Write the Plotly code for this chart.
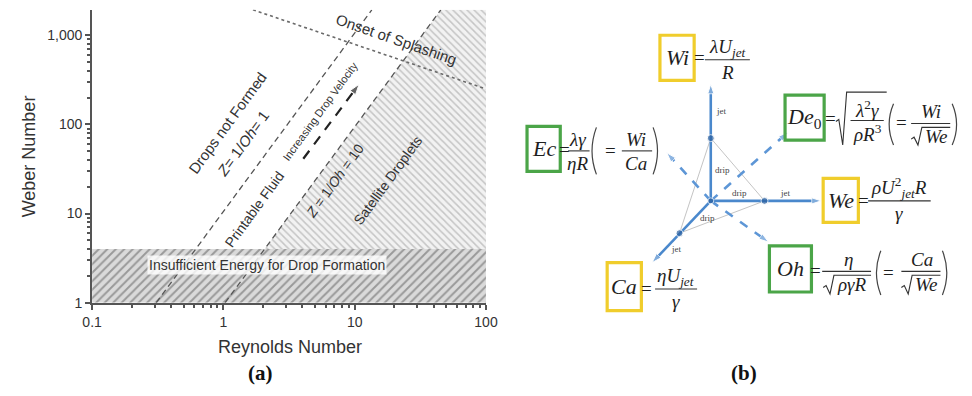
import math
import plotly.graph_objects as go

W, H = 972, 396

# ---------------- panel (a): printability map (log-log) ----------------
re_ticks = [0.1, 1, 10, 100]
re_tick_text = ["0.1", "1", "10", "100"]
we_ticks = [1, 10, 100, 1000]
we_tick_text = ["1", "10", "100", "1,000"]
we_top = 1930

# regime boundaries, (Re, We) end points
z1_re, z1_we = [0.308, 13.5], [1, 1930]          # Z = 1/Oh = 1
z10_re, z10_we = [1.03, 45.3], [1, 1930]         # Z = 1/Oh = 10
splash_re, splash_we = [1.68, 100], [1930, 250]  # onset of splashing
min_we = 4                                       # insufficient energy below this We
velocity_re, velocity_we = [4.06, 10.8], [41.2, 282]

SANS = "Liberation Sans"
SERIF = "Liberation Serif"
INK = "#333333"

fig = go.Figure()

# satellite droplet region: right of the Z=10 line, above the energy threshold
sat_re0 = z10_re[0] * math.sqrt(min_we / z10_we[0])
fig.add_trace(go.Scatter(
    x=[sat_re0, re_ticks[-1], re_ticks[-1], z10_re[1], sat_re0],
    y=[min_we, min_we, we_top, z10_we[1], min_we],
    mode="lines", fill="toself", line=dict(width=0),
    fillcolor="#f2f2f2",
    fillpattern=dict(shape="\\", size=5, solidity=0.3, fgcolor="#979797", bgcolor="#f2f2f2"),
    hoverinfo="skip", showlegend=False))

# insufficient energy band
fig.add_trace(go.Scatter(
    x=[re_ticks[0], re_ticks[-1], re_ticks[-1], re_ticks[0], re_ticks[0]],
    y=[1, 1, min_we, min_we, 1],
    mode="lines", fill="toself", line=dict(width=0),
    fillcolor="#d8d8d8",
    fillpattern=dict(shape="/", size=6, solidity=0.32, fgcolor="#585858", bgcolor="#dadada"),
    hoverinfo="skip", showlegend=False))

for xs, ys in [(z1_re, z1_we), (z10_re, z10_we)]:
    fig.add_trace(go.Scatter(x=xs, y=ys, mode="lines",
                             line=dict(color="#555555", width=1.3, dash="6px,4px"),
                             hoverinfo="skip", showlegend=False))
fig.add_trace(go.Scatter(x=splash_re, y=splash_we, mode="lines",
                         line=dict(color="#6a6a6a", width=1.6, dash="dot"),
                         hoverinfo="skip", showlegend=False))
fig.add_trace(go.Scatter(x=velocity_re, y=velocity_we, mode="lines+markers",
                         line=dict(color="#222222", width=2.2, dash="10px,8px"),
                         marker=dict(symbol=["circle", "arrow"], size=[0, 11],
                                     angleref="previous", color="#222222"),
                         hoverinfo="skip", showlegend=False))

L = math.log10
ann = []

def map_label(text, re, we, size, angle, **kw):
    d = dict(text=text, x=L(re), y=L(we), xref="x", yref="y", showarrow=False,
             xanchor="center", yanchor="middle",
             textangle=angle, font=dict(family=SANS, size=size, color=INK))
    d.update(kw)
    ann.append(d)

map_label("Drops not Formed", 1.08, 105, 15, -54)
map_label("<i>Z</i>= 1/<i>Oh</i>= 1", 1.40, 61.8, 15, -54)
map_label("Printable Fluid", 1.72, 11.4, 14, -54)
map_label("Increasing Drop Velocity", 5.5, 140, 11, -54)
map_label("<i>Z</i> = 1/<i>Oh</i> = 10", 7.14, 23.6, 14, -54)
map_label("Satellite Droplets", 18.0, 23.6, 14, -54)
map_label("Onset of Splashing", 21.0, 900, 15, 19)
map_label("Insufficient Energy for Drop Formation", 2.15, 2.62, 14, 0,
          bgcolor="rgba(255,255,255,0.8)", borderpad=1)

def paper_text(text, px, py, size, family, color, angle=0):
    ann.append(dict(text=text, x=px / W, y=1 - py / H, xref="paper", yref="paper",
                    xanchor="center", yanchor="middle", showarrow=False, textangle=angle,
                    font=dict(family=family, size=size, color=color)))

# axis titles and panel tags
paper_text("Weber Number", 19, 160, 18, SANS, INK, angle=-90)
paper_text("Reynolds Number", 286, 354, 18, SANS, INK)
paper_text("<b>(a)</b>", 256, 381, 21, SERIF, "#111111")
paper_text("<b>(b)</b>", 751, 381, 21, SERIF, "#111111")

# ---------------- panel (b): dimensionless-number diagram ----------------
BLUE = "#4a88cc"
BLUE_D = "#5d96d6"
NODE = "#2a5f9f"
YEL = "#f0cd2c"
GRN = "#4ba548"

cx, cy = 717, 205
spokes = {  # name: (tip, node)
    "Wi": ((717, 86), (717, 141)),
    "We": ((830, 205), (772, 205)),
    "Ca": ((657, 268), (685, 238)),
}
dashed_spokes = {"De0": (796, 135), "Ec": (672, 156), "Oh": (776, 247)}

nodes = [v[1] for v in spokes.values()]
fig.add_trace(go.Scatter(x=[p[0] for p in nodes + nodes[:1]], y=[p[1] for p in nodes + nodes[:1]],
                         mode="lines", line=dict(color="#c4c4c4", width=1),
                         xaxis="x2", yaxis="y2", hoverinfo="skip", showlegend=False))
for tip in dashed_spokes.values():
    fig.add_trace(go.Scatter(x=[cx, tip[0]], y=[cy, tip[1]], mode="lines+markers",
                             line=dict(color=BLUE_D, width=2.6, dash="dash"),
                             marker=dict(symbol=["circle", "arrow"], size=[0, 10],
                                         angleref="previous", color=BLUE_D),
                             xaxis="x2", yaxis="y2", hoverinfo="skip", showlegend=False))
for tip, node in spokes.values():
    fig.add_trace(go.Scatter(x=[cx, tip[0]], y=[cy, tip[1]], mode="lines+markers",
                             line=dict(color=BLUE, width=2.6),
                             marker=dict(symbol=["circle", "arrow"], size=[0, 10],
                                         angleref="previous", color=BLUE),
                             xaxis="x2", yaxis="y2", hoverinfo="skip", showlegend=False))
fig.add_trace(go.Scatter(x=[p[0] for p in nodes] + [cx], y=[p[1] for p in nodes] + [cy],
                         mode="markers", marker=dict(color=NODE, size=[7, 7, 7, 6]),
                         xaxis="x2", yaxis="y2", hoverinfo="skip", showlegend=False))

small = [("jet", 727, 113), ("drip", 729, 173), ("drip", 746, 197), ("jet", 793, 197),
         ("drip", 714, 222), ("jet", 681, 254)]
for t, x, y in small:
    ann.append(dict(text=t, x=x, y=y, xref="x2", yref="y2", showarrow=False,
                    font=dict(family=SERIF, size=9, color="#444444")))

shapes = []

def txt(text, x, y, size=19, color="#1e1e1e"):
    ann.append(dict(text=text, x=x, y=y, xref="x2", yref="y2", showarrow=False,
                    xanchor="center", yanchor="middle",
                    font=dict(family=SERIF, size=size, color=color)))

def box(x0, y0, x1, y1, color, label):
    shapes.append(dict(type="rect", x0=x0, y0=y0, x1=x1, y1=y1, xref="x2", yref="y2",
                       line=dict(color=color, width=3.2)))
    txt(label, (x0 + x1) / 2, (y0 + y1) / 2, size=22)

def bar(x0, x1, y):
    shapes.append(dict(type="line", x0=x0, x1=x1, y0=y, y1=y, xref="x2", yref="y2",
                       line=dict(color="#333333", width=1.1)))

def frac(num, den, xc, x0, x1, y, dn=12, dd=13, xd=None):
    bar(x0, x1, y)
    txt(num, xc, y - dn)
    txt(den, xc if xd is None else xd, y + dd)

def root(x0, x1, ytop, ybot):
    ym = (ytop + ybot) / 2 + 3
    shapes.append(dict(type="path", xref="x2", yref="y2",
                       path=f"M {x0},{ym} L {x0+3},{ym-2} L {x0+7},{ybot} L {x0+11},{ytop} L {x1},{ytop}",
                       line=dict(color="#333333", width=1.1)))

def paren(x, ytop, ybot, left=True):
    ym = (ytop + ybot) / 2
    if left:
        p = f"M {x+4},{ytop} Q {x-5},{ym} {x+4},{ybot}"
    else:
        p = f"M {x-4},{ytop} Q {x+5},{ym} {x-4},{ybot}"
    shapes.append(dict(type="path", path=p, xref="x2", yref="y2",
                       line=dict(color="#444444", width=1.2)))

# Wi
box(665, 36, 700, 82, YEL, "<i>Wi</i>")
txt("=", 705, 59)
frac("<i>λU</i><sub><i>jet</i></sub>", "<i>R</i>", 734, 711, 757, 61)

# Ec
box(529, 129, 563, 175, GRN, "<i>Ec</i>")
txt("=", 567, 153)
frac("<i>λγ</i>", "<i>ηR</i>", 581, 571, 593, 154)
paren(596, 130, 178)
txt("=", 614, 154)
frac("<i>Wi</i>", "<i>Ca</i>", 641, 626, 657, 154)
paren(662, 130, 178, left=False)

# De0
box(793, 97, 833, 143, GRN, "<i>De</i><sub>0</sub>")
txt("=", 840, 121)
root(845, 897, 94, 148)
frac("<i>λ</i><sup>2</sup><i>γ</i>", "<i>ρR</i><sup>3</sup>", 877, 860, 894, 123)
paren(900, 106, 148)
txt("=", 912, 125)
frac("<i>Wi</i>", "<i>We</i>", 942, 922, 962, 126, xd=948)
root(922, 962, 130, 148)
paren(968, 106, 148, left=False)

# We
box(832, 182, 868, 227, YEL, "<i>We</i>")
txt("=", 873, 205)
frac("<i>ρU</i><sup>2</sup><sub><i>jet</i></sub><i>R</i>", "<i>γ</i>", 910, 878, 942, 205, dn=14)

# Oh
box(777, 251, 820, 298, GRN, "<i>Oh</i>")
txt("=", 824, 276)
frac("<i>η</i>", "<i>ργR</i>", 858, 831, 881, 277, xd=862)
root(832, 881, 281, 300)
paren(887, 256, 301)
txt("=", 899, 278)
frac("<i>Ca</i>", "<i>We</i>", 933, 912, 952, 277, xd=938)
root(912, 952, 281, 300)
paren(958, 256, 301, left=False)

# Ca
box(611, 268, 646, 317, YEL, "<i>Ca</i>")
txt("=", 651, 294)
frac("<i>ηU</i><sub><i>jet</i></sub>", "<i>γ</i>", 681, 660, 703, 295)

# ---------------- layout ----------------
minor_re = [m * 10 ** e for e in (-1, 0, 1) for m in range(2, 10)]
minor_we = [m * 10 ** e for e in (0, 1, 2, 3) for m in range(2, 10) if m * 10 ** e < we_top]
axis_common = dict(showgrid=False, zeroline=False, showline=True, linecolor="#555555",
                   linewidth=2, ticks="outside", ticklen=5, tickwidth=1.5, tickcolor="#555555",
                   tickfont=dict(family=SANS, size=14, color=INK))

d0 = 0.52
fig.update_layout(
    width=W, height=H, margin=dict(l=0, r=0, t=0, b=0),
    paper_bgcolor="white", plot_bgcolor="rgba(0,0,0,0)",
    showlegend=False,
    xaxis=dict(type="log", range=[-1, 2], domain=[84 / W, 487 / W], anchor="y",
               tickmode="array", tickvals=re_ticks, ticktext=re_tick_text,
               minor=dict(tickvals=minor_re, ticks="outside", ticklen=3, tickcolor="#555555"),
               **axis_common),
    yaxis=dict(type="log", range=[0, L(we_top)], domain=[1 - 309 / H, 1 - 10 / H], anchor="x",
               tickmode="array", tickvals=we_ticks, ticktext=we_tick_text,
               minor=dict(tickvals=minor_we, ticks="outside", ticklen=3, tickcolor="#555555"),
               **axis_common),
    xaxis2=dict(domain=[d0, 1], range=[d0 * W, W], visible=False, anchor="y2"),
    yaxis2=dict(domain=[0, 1], range=[H, 0], visible=False, anchor="x2"),
    annotations=ann,
    shapes=shapes,
)

fig.write_html("out.html")
